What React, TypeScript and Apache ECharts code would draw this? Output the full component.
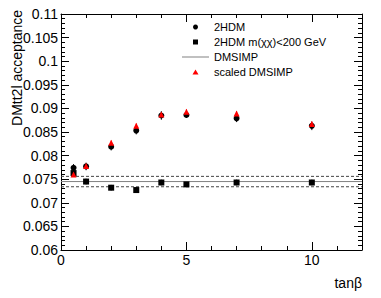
import React, { useEffect, useRef } from "react";
import * as echarts from "echarts";

const tanBeta = [0.5, 1, 2, 3, 4, 5, 7, 10];
const hdm = [0.0774, 0.0777, 0.0819, 0.0853, 0.0885, 0.0886, 0.0879, 0.0863];
const hdmErr = [0.0008, 0.0008, 0.0008, 0.0008, 0.0009, 0.0006, 0.0008, 0.0009];
const hdmLow = [0.0763, 0.0745, 0.0732, 0.0727, 0.0743, 0.0739, 0.0743, 0.0743];
const hdmLowErr = [0.0007, 0.0006, 0.0006, 0.0006, 0.0006, 0.0005, 0.0006, 0.0006];
const scaled = [0.076, 0.0778, 0.0827, 0.0863, 0.0887, 0.0893, 0.0889, 0.0867];
const scaledErr = [0.0005, 0.0005, 0.0005, 0.0005, 0.0005, 0.0005, 0.0005, 0.0005];
const dmsimp = 0.0745;
const dmsimpUp = 0.0756;
const dmsimpDown = 0.0734;
const xRange = [0, 12];
const yRange = [0.06, 0.11];

const FONT = "'Liberation Sans', Arial, Helvetica, sans-serif";

// legend icons: invisible move-to points fix a 27x5 box so the marker keeps its shape
const ICON_SQUARE = "path://M0,0 M27,5 M11,0 L16,0 L16,5 L11,5 Z";
const ICON_TRIANGLE = "path://M0,0 M27,5 M13.5,0 L16.5,5 L10.5,5 Z";
const ICON_LINE = "path://M0,0 M27,5 M0,2 L27,2 L27,3 L0,3 Z";

function errBars(name: string, ys: number[], es: number[], color: string) {
  return {
    name,
    type: "custom",
    z: 3,
    encode: { x: 0, y: 1 },
    data: tanBeta.map((x, i) => [x, ys[i], es[i]]),
    renderItem: (params: any, api: any) => {
      const x = api.value(0);
      const y = api.value(1);
      const e = api.value(2);
      const p1 = api.coord([x, y - e]);
      const p2 = api.coord([x, y + e]);
      return {
        type: "line",
        shape: { x1: p1[0], y1: p1[1], x2: p2[0], y2: p2[1] },
        style: { stroke: color, lineWidth: 1 },
      };
    },
  };
}

export default function App() {
  const ref = useRef<HTMLDivElement>(null);
  useEffect(() => {
    if (!ref.current) return;
    const chart = echarts.init(ref.current, null, { renderer: "svg" });
    const axisCommon = {
      axisLine: { show: true, onZero: false, lineStyle: { color: "#000", width: 1 } },
      splitLine: { show: false },
    };
    const tick = { show: true, inside: true, length: 8, lineStyle: { color: "#000" } };
    const minor = { show: true, splitNumber: 5, length: 4, lineStyle: { color: "#000" } };
    const hName = "2HDM m(χχ)<200 GeV";
    chart.setOption({
      animation: false,
      backgroundColor: "#fff",
      grid: { left: 61, right: 19, top: 14, bottom: 48 },
      legend: {
        orient: "vertical",
        left: 177,
        top: 15,
        itemWidth: 27,
        itemHeight: 5,
        itemGap: 1,
        selectedMode: false,
        textStyle: { fontFamily: FONT, fontSize: 11, color: "#000", lineHeight: 14, fontWeight: "normal" },
        data: [
          { name: "2HDM", icon: "circle" },
          { name: hName, icon: ICON_SQUARE },
          { name: "DMSIMP", icon: ICON_LINE },
          { name: "scaled DMSIMP", icon: ICON_TRIANGLE },
        ],
      },
      xAxis: [
        {
          type: "value",
          position: "bottom",
          min: xRange[0],
          max: xRange[1],
          interval: 5,
          ...axisCommon,
          axisTick: tick,
          minorTick: minor,
          minorSplitLine: { show: false },
          axisLabel: {
            fontFamily: FONT,
            fontSize: 14,
            color: "#000",
            margin: 3,
            formatter: (v: number) => (v % 5 === 0 ? String(v) : ""),
          },
        },
        {
          type: "value",
          position: "top",
          min: xRange[0],
          max: xRange[1],
          interval: 5,
          ...axisCommon,
          axisTick: tick,
          minorTick: minor,
          axisLabel: { show: false },
        },
      ],
      yAxis: [
        {
          type: "value",
          position: "left",
          min: yRange[0],
          max: yRange[1],
          interval: 0.005,
          ...axisCommon,
          axisTick: tick,
          minorTick: minor,
          axisLabel: {
            fontFamily: FONT,
            fontSize: 14,
            color: "#000",
            margin: 3,
            formatter: (v: number) => String(+v.toFixed(3)),
          },
        },
        {
          type: "value",
          position: "right",
          min: yRange[0],
          max: yRange[1],
          interval: 0.005,
          ...axisCommon,
          axisTick: tick,
          minorTick: minor,
          axisLabel: { show: false },
        },
      ],
      graphic: [
        {
          type: "text",
          x: 17,
          y: 10,
          rotation: Math.PI / 2,
          style: {
            text: "DMtt2l acceptance",
            align: "right",
            verticalAlign: "middle",
            fontFamily: FONT,
            fontSize: 14,
            fill: "#000",
          },
        },
        {
          type: "text",
          x: 362,
          y: 283,
          style: {
            text: "tanβ",
            align: "right",
            verticalAlign: "middle",
            fontFamily: FONT,
            fontSize: 14,
            fill: "#000",
          },
        },
      ],
      series: [
        {
          name: "DMSIMP",
          type: "line",
          symbol: "none",
          z: 1,
          lineStyle: { color: "#808080", width: 1 },
          itemStyle: { color: "#808080" },
          data: [
            [xRange[0], dmsimp],
            [xRange[1], dmsimp],
          ],
        },
        {
          name: "up",
          type: "line",
          symbol: "none",
          z: 1,
          lineStyle: { color: "#444", width: 1, type: [3, 2] },
          data: [
            [xRange[0], dmsimpUp],
            [xRange[1], dmsimpUp],
          ],
        },
        {
          name: "down",
          type: "line",
          symbol: "none",
          z: 1,
          lineStyle: { color: "#444", width: 1, type: [3, 2] },
          data: [
            [xRange[0], dmsimpDown],
            [xRange[1], dmsimpDown],
          ],
        },
        errBars("e1", hdm, hdmErr, "#000"),
        errBars("e2", hdmLow, hdmLowErr, "#000"),
        {
          name: "2HDM",
          type: "scatter",
          symbol: "circle",
          symbolSize: 6,
          z: 4,
          itemStyle: { color: "#000", opacity: 1 },
          data: tanBeta.map((x, i) => [x, hdm[i]]),
        },
        {
          name: hName,
          type: "scatter",
          symbol: "rect",
          symbolSize: 6,
          z: 4,
          itemStyle: { color: "#000", opacity: 1 },
          data: tanBeta.map((x, i) => [x, hdmLow[i]]),
        },
        errBars("e3", scaled, scaledErr, "#ff0000"),
        {
          name: "scaled DMSIMP",
          type: "scatter",
          symbol: "triangle",
          symbolSize: 6,
          z: 5,
          itemStyle: { color: "#ff0000", opacity: 1 },
          data: tanBeta.map((x, i) => [x, scaled[i]]),
        },
      ],
    });
    return () => chart.dispose();
  }, []);
  return (
    <div
      ref={ref}
      style={{ position: "fixed", left: 0, top: 0, width: 381, height: 298, background: "#fff" }}
    />
  );
}
